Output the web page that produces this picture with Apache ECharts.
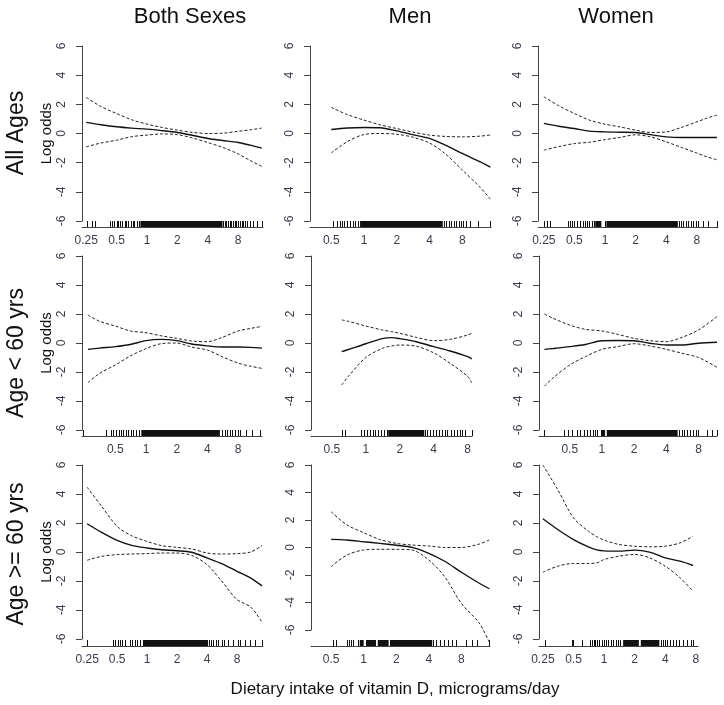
<!DOCTYPE html>
<html><head><meta charset="utf-8">
<script src="https://cdn.jsdelivr.net/npm/echarts@6/dist/echarts.min.js"></script>
<style>html,body{margin:0;padding:0;background:#fff}#c{width:724px;height:705px}</style>
</head><body><div id="c"></div>
<script>
// ---------- DATA ----------
const sexes = ['Both Sexes', 'Men', 'Women'];
const ageGroups = ['All Ages', 'Age < 60 yrs', 'Age >= 60 yrs'];
const xTitle = 'Dietary intake of vitamin D, micrograms/day';
const yTitle = 'Log odds';
const yTicks = [-6, -4, -2, 0, 2, 4, 6];
const xTicksFrom025 = [0.25, 0.5, 1, 2, 4, 8];
const xTicksFrom05 = [0.5, 1, 2, 4, 8];

// All ages - Both sexes
const allBothX = [0.25, 0.35, 0.5, 0.7, 1, 1.4, 2, 2.8, 4, 5.6, 8, 10.5, 13.7];
const allBothFit = [0.76, 0.6, 0.46, 0.37, 0.3, 0.2, 0.07, -0.12, -0.34, -0.48, -0.62, -0.8, -1.0];
const allBothUpper = [2.47, 1.85, 1.37, 0.95, 0.64, 0.42, 0.23, 0.08, 0.0, 0.02, 0.15, 0.25, 0.37];
const allBothLower = [-0.92, -0.65, -0.46, -0.22, -0.11, -0.03, -0.08, -0.3, -0.62, -0.95, -1.4, -1.85, -2.25];
const allBothRug = [0.255, 0.286, 0.306, 0.43, 0.45, 0.47, 0.5, 0.52, 0.54, 0.57, 0.6, 0.62, 0.65, 0.69, 0.72, 0.75, 0.79, 0.83, 5.7, 5.9, 6.1, 6.3, 6.6, 6.8, 7.1, 7.4, 7.7, 8.0, 8.3, 8.7, 9.0, 9.4, 9.9, 10.4, 11.2, 12.3, 13.7];
const allBothRugDense = [[0.86, 5.6]];

// All ages - Men
const allMenX = [0.5, 0.7, 1, 1.4, 2, 2.8, 4, 5.6, 8, 11.7, 14.5];
const allMenFit = [0.27, 0.38, 0.41, 0.39, 0.18, -0.08, -0.34, -0.8, -1.37, -1.95, -2.3];
const allMenUpper = [1.79, 1.3, 0.92, 0.6, 0.34, 0.1, -0.11, -0.2, -0.23, -0.18, -0.1];
const allMenLower = [-1.33, -0.57, -0.07, 0.0, -0.05, -0.25, -0.65, -1.4, -2.5, -3.7, -4.5];
const allMenRug = [0.52, 0.56, 0.6, 0.63, 0.66, 0.7, 0.74, 0.79, 0.83, 0.88, 5.4, 5.7, 6.0, 6.3, 6.7, 7.0, 7.4, 7.8, 8.2, 8.6, 9.4, 11.1, 14.4];
const allMenRugDense = [[0.92, 5.3]];

// All ages - Women
const allWomenX = [0.25, 0.35, 0.5, 0.7, 1, 1.4, 2, 2.8, 4, 5.6, 8, 10, 12.6];
const allWomenFit = [0.69, 0.5, 0.34, 0.16, 0.11, 0.09, 0.07, -0.08, -0.23, -0.27, -0.27, -0.27, -0.27];
const allWomenUpper = [2.52, 1.9, 1.37, 0.92, 0.64, 0.45, 0.23, 0.07, 0.11, 0.41, 0.8, 1.05, 1.26];
const allWomenLower = [-1.14, -0.9, -0.69, -0.6, -0.42, -0.27, -0.09, -0.23, -0.57, -0.95, -1.34, -1.6, -1.8];
const allWomenRug = [0.25, 0.27, 0.29, 0.43, 0.45, 0.47, 0.5, 0.53, 0.57, 0.6, 0.63, 0.66, 0.7, 0.74, 0.77, 1.0, 5.3, 5.6, 5.9, 6.3, 6.6, 7.0, 7.4, 7.8, 8.2, 9.2, 10.3, 12.6];
const allWomenRugDense = [[0.8, 0.92], [1.03, 5.2]];

// Age < 60 - Both sexes
const youngBothX = [0.27, 0.35, 0.5, 0.7, 1, 1.4, 2, 2.8, 4, 5.6, 8, 10.5, 13.7];
const youngBothFit = [-0.44, -0.35, -0.25, -0.1, 0.16, 0.25, 0.16, -0.07, -0.2, -0.28, -0.28, -0.3, -0.35];
const youngBothUpper = [1.93, 1.5, 1.17, 0.83, 0.71, 0.5, 0.32, 0.14, 0.09, 0.39, 0.83, 1.0, 1.15];
const youngBothLower = [-2.74, -2.1, -1.52, -0.9, -0.39, -0.05, 0.0, -0.28, -0.49, -0.95, -1.39, -1.6, -1.75];
const youngBothRug = [0.24, 0.41, 0.45, 0.48, 0.51, 0.54, 0.57, 0.6, 0.64, 0.67, 0.71, 0.75, 0.8, 0.85, 5.6, 5.9, 6.2, 6.6, 7.0, 7.5, 8.0, 8.4, 9.6, 11.0, 13.0];
const youngBothRugDense = [[0.9, 5.3]];

// Age < 60 - Men
const youngMenX = [0.61, 0.7, 1, 1.4, 1.7, 2, 2.8, 4, 5.6, 8, 8.7];
const youngMenFit = [-0.6, -0.45, -0.05, 0.3, 0.37, 0.3, 0.09, -0.25, -0.55, -0.94, -1.1];
const youngMenUpper = [1.59, 1.5, 1.17, 0.9, 0.78, 0.67, 0.39, 0.16, 0.25, 0.55, 0.67];
const youngMenLower = [-2.9, -2.3, -1.0, -0.37, -0.2, -0.14, -0.22, -0.68, -1.4, -2.3, -2.74];
const youngMenRug = [0.61, 0.65, 0.9, 0.96, 1.02, 1.09, 1.15, 1.2, 1.28, 1.36, 1.44, 1.53, 3.33, 3.46, 3.69, 3.92, 4.17, 4.43, 4.7, 5.0, 5.3, 5.66, 6.0, 6.4, 6.8, 7.2, 7.66, 8.7];
const youngMenRugDense = [[1.58, 3.3]];

// Age < 60 - Women
const youngWomenX = [0.29, 0.35, 0.5, 0.7, 1, 1.4, 2, 2.8, 4, 5.6, 8, 11.9];
const youngWomenFit = [-0.44, -0.38, -0.25, -0.1, 0.16, 0.17, 0.16, -0.02, -0.14, -0.14, -0.02, 0.05];
const youngWomenUpper = [2.0, 1.7, 1.24, 0.94, 0.83, 0.6, 0.32, 0.16, 0.09, 0.39, 0.9, 1.82];
const youngWomenLower = [-2.97, -2.4, -1.52, -0.94, -0.44, -0.25, -0.05, -0.2, -0.44, -0.71, -1.0, -1.68];
const youngWomenRug = [0.29, 0.44, 0.48, 0.53, 0.58, 0.62, 0.68, 0.73, 0.77, 0.82, 0.86, 0.9, 5.3, 5.6, 5.9, 6.3, 6.7, 7.1, 7.5, 7.9, 9.5, 10.6, 11.8];
const youngWomenRugDense = [[0.98, 1.07], [1.11, 5.1]];

// Age >= 60 - Both sexes
const oldBothX = [0.25, 0.35, 0.5, 0.7, 1, 1.4, 2, 2.8, 4, 5.6, 8, 11, 14.3];
const oldBothFit = [1.95, 1.35, 0.8, 0.46, 0.28, 0.16, 0.09, -0.02, -0.41, -0.8, -1.33, -1.8, -2.34];
const oldBothUpper = [4.47, 3.14, 1.77, 1.12, 0.73, 0.44, 0.32, 0.21, -0.07, -0.14, -0.11, 0.0, 0.45];
const oldBothLower = [-0.57, -0.3, -0.18, -0.14, -0.11, -0.07, -0.07, -0.23, -0.87, -2.0, -3.28, -3.8, -4.85];
const oldBothRug = [0.25, 0.45, 0.48, 0.51, 0.54, 0.56, 0.6, 0.67, 0.7, 0.75, 0.8, 0.85, 4.2, 4.4, 4.6, 4.9, 5.2, 5.6, 5.9, 6.5, 7.3, 8.2, 8.6, 9.6, 10.8, 12.1, 14.3];
const oldBothRugDense = [[0.91, 4.1]];

// Age >= 60 - Men
const oldMenX = [0.5, 0.7, 1, 1.4, 2, 2.8, 4, 5.6, 8, 11.7, 14.5];
const oldMenFit = [0.59, 0.55, 0.42, 0.3, 0.16, 0.01, -0.42, -1.0, -1.8, -2.6, -3.0];
const oldMenUpper = [2.6, 1.64, 1.08, 0.59, 0.3, 0.18, 0.11, 0.0, 0.0, 0.25, 0.55];
const oldMenLower = [-1.39, -0.55, -0.18, -0.13, -0.13, -0.18, -0.91, -2.12, -4.07, -5.5, -6.9];
const oldMenRug = [0.52, 0.56, 0.7, 0.73, 0.77, 0.8, 0.88, 4.4, 4.7, 5.1, 5.5, 6.0, 6.5, 7.1, 8.8, 10.0, 11.2, 14.4];
const oldMenRugDense = [[0.92, 1.0], [1.05, 1.3], [1.35, 1.7], [1.75, 4.3]];

// Age >= 60 - Women
const oldWomenX = [0.25, 0.35, 0.5, 0.7, 0.85, 1, 1.4, 2, 2.8, 4, 5.6, 7.5];
const oldWomenFit = [2.29, 1.55, 0.86, 0.36, 0.15, 0.08, 0.06, 0.13, -0.01, -0.4, -0.63, -0.93];
const oldWomenUpper = [6.0, 4.3, 2.36, 1.44, 1.05, 0.82, 0.52, 0.4, 0.36, 0.4, 0.63, 1.09];
const oldWomenLower = [-1.39, -0.98, -0.79, -0.79, -0.75, -0.52, -0.29, -0.17, -0.4, -0.98, -1.78, -2.7];
const oldWomenRug = [0.26, 0.48, 0.5, 0.61, 0.73, 0.76, 0.79, 0.82, 0.85, 0.9, 0.95, 1.0, 1.05, 1.1, 1.17, 1.23, 1.3, 1.38, 1.45, 3.6, 3.8, 4.0, 4.2, 4.5, 4.8, 5.1, 5.5, 6.0, 6.5, 7.2, 7.5];
const oldWomenRugDense = [[1.54, 2.2], [2.3, 3.5]];

// x-axis ranges of each panel (row-major)
const xMin = [0.227, 0.319, 0.219, 0.236, 0.326, 0.258, 0.222, 0.326, 0.229];
const xMax = [14.1, 14.7, 12.9, 13.7, 8.75, 11.9, 14.6, 14.7, 8.4];
const xTickSets = [xTicksFrom025, xTicksFrom05, xTicksFrom025, xTicksFrom05, xTicksFrom05, xTicksFrom05, xTicksFrom025, xTicksFrom05, xTicksFrom025];

// ---------- LAYOUT ----------
const layout = [
  {left: 82, top: 46, width: 181, height: 175, off: 6},
  {left: 310, top: 46, width: 181, height: 175, off: 6},
  {left: 538, top: 46, width: 180, height: 175, off: 6},
  {left: 82, top: 256, width: 180, height: 174, off: 6},
  {left: 311, top: 256, width: 161, height: 174, off: 6},
  {left: 539, top: 256, width: 178, height: 174, off: 6},
  {left: 82, top: 465, width: 181, height: 174, off: 7},
  {left: 311, top: 465, width: 179, height: 165, off: 16},
  {left: 539, top: 465, width: 159, height: 174, off: 7}
];

const panels = [
  {x: allBothX, fit: allBothFit, up: allBothUpper, lo: allBothLower, rug: allBothRug, dense: allBothRugDense},
  {x: allMenX, fit: allMenFit, up: allMenUpper, lo: allMenLower, rug: allMenRug, dense: allMenRugDense},
  {x: allWomenX, fit: allWomenFit, up: allWomenUpper, lo: allWomenLower, rug: allWomenRug, dense: allWomenRugDense},
  {x: youngBothX, fit: youngBothFit, up: youngBothUpper, lo: youngBothLower, rug: youngBothRug, dense: youngBothRugDense},
  {x: youngMenX, fit: youngMenFit, up: youngMenUpper, lo: youngMenLower, rug: youngMenRug, dense: youngMenRugDense},
  {x: youngWomenX, fit: youngWomenFit, up: youngWomenUpper, lo: youngWomenLower, rug: youngWomenRug, dense: youngWomenRugDense},
  {x: oldBothX, fit: oldBothFit, up: oldBothUpper, lo: oldBothLower, rug: oldBothRug, dense: oldBothRugDense},
  {x: oldMenX, fit: oldMenFit, up: oldMenUpper, lo: oldMenLower, rug: oldMenRug, dense: oldMenRugDense},
  {x: oldWomenX, fit: oldWomenFit, up: oldWomenUpper, lo: oldWomenLower, rug: oldWomenRug, dense: oldWomenRugDense}
];

const FONT = '"Liberation Sans", Arial, sans-serif';
const AXIS_COLOR = '#444';
const LABEL_COLOR = '#3d3850';
const RUG_H = 6;

const grid = [], xAxis = [], yAxis = [], series = [];
panels.forEach((p, i) => {
  const L = layout[i];
  grid.push({left: L.left, top: L.top, width: L.width, height: L.height, containLabel: false});
  xAxis.push({
    type: 'log', logBase: 2, gridIndex: i, min: xMin[i], max: xMax[i], offset: L.off, position: 'bottom',
    axisLine: {show: true, onZero: false, lineStyle: {color: AXIS_COLOR, width: 1}},
    axisTick: {show: false},
    splitLine: {show: false},
    axisLabel: {customValues: xTickSets[i], fontSize: 12, color: LABEL_COLOR, fontFamily: FONT, margin: 8,
      formatter: v => String(+(+v).toFixed(2))}
  });
  yAxis.push({
    type: 'value', gridIndex: i, min: -6, max: 6, interval: 2,
    axisLine: {show: true, lineStyle: {color: AXIS_COLOR, width: 1}},
    axisTick: {show: true, length: 6, lineStyle: {color: AXIS_COLOR}},
    splitLine: {show: false},
    axisLabel: {rotate: 90, fontSize: 12, color: LABEL_COLOR, fontFamily: FONT, margin: 14},
    name: (i % 3 === 0) ? yTitle : '',
    nameLocation: 'middle', nameGap: 28, nameRotate: 90,
    nameTextStyle: {fontSize: 15, color: '#111', fontFamily: FONT}
  });
  const mk = (ys) => p.x.map((v, k) => [v, ys[k]]);
  const base = {type: 'line', xAxisIndex: i, yAxisIndex: i, symbol: 'none', smooth: 0.3, clip: false, silent: true, animation: false};
  series.push(Object.assign({}, base, {data: mk(p.fit), lineStyle: {color: '#111', width: 1.4}}));
  series.push(Object.assign({}, base, {data: mk(p.up), lineStyle: {color: '#222', width: 1, type: [3, 2]}}));
  series.push(Object.assign({}, base, {data: mk(p.lo), lineStyle: {color: '#222', width: 1, type: [3, 2]}}));
  const off = L.off;
  series.push({
    type: 'custom', xAxisIndex: i, yAxisIndex: i, clip: false, silent: true, animation: false,
    data: p.rug.map(v => [v]), encode: {x: 0},
    renderItem: (params, api) => {
      const pt = api.coord([api.value(0), -6]);
      const x = Math.round(pt[0]) + 0.5;
      const y0 = pt[1] + off;
      return {type: 'line', shape: {x1: x, y1: y0, x2: x, y2: y0 - RUG_H}, style: {stroke: '#111', lineWidth: 1}};
    }
  });
  series.push({
    type: 'custom', xAxisIndex: i, yAxisIndex: i, clip: false, silent: true, animation: false,
    data: p.dense, encode: {x: [0, 1]},
    renderItem: (params, api) => {
      const a = api.coord([api.value(0), -6]);
      const b = api.coord([api.value(1), -6]);
      const y0 = a[1] + off;
      return {type: 'rect', shape: {x: a[0], y: y0 - RUG_H, width: b[0] - a[0], height: RUG_H}, style: {fill: '#111'}};
    }
  });
});

const colCenters = [190, 410, 616];
const rowCenters = [133, 353, 554];
const graphic = [];
sexes.forEach((s, c) => graphic.push({type: 'text', x: colCenters[c], y: 17,
  style: {text: s, font: '22px ' + FONT, fill: '#111', textAlign: 'center', textVerticalAlign: 'middle'}}));
ageGroups.forEach((a, r) => graphic.push({type: 'text', x: 17, y: rowCenters[r], rotation: Math.PI / 2,
  style: {text: a, font: '23px ' + FONT, fill: '#111', textAlign: 'center', textVerticalAlign: 'middle'}}));
graphic.push({type: 'text', x: 395, y: 689,
  style: {text: xTitle, font: '17px ' + FONT, fill: '#111', textAlign: 'center', textVerticalAlign: 'middle'}});

const chart = echarts.init(document.getElementById('c'), null, {renderer: 'canvas', width: 724, height: 705});
chart.setOption({
  animation: false,
  backgroundColor: '#fff',
  grid, xAxis, yAxis, series, graphic
});
</script></body></html>
